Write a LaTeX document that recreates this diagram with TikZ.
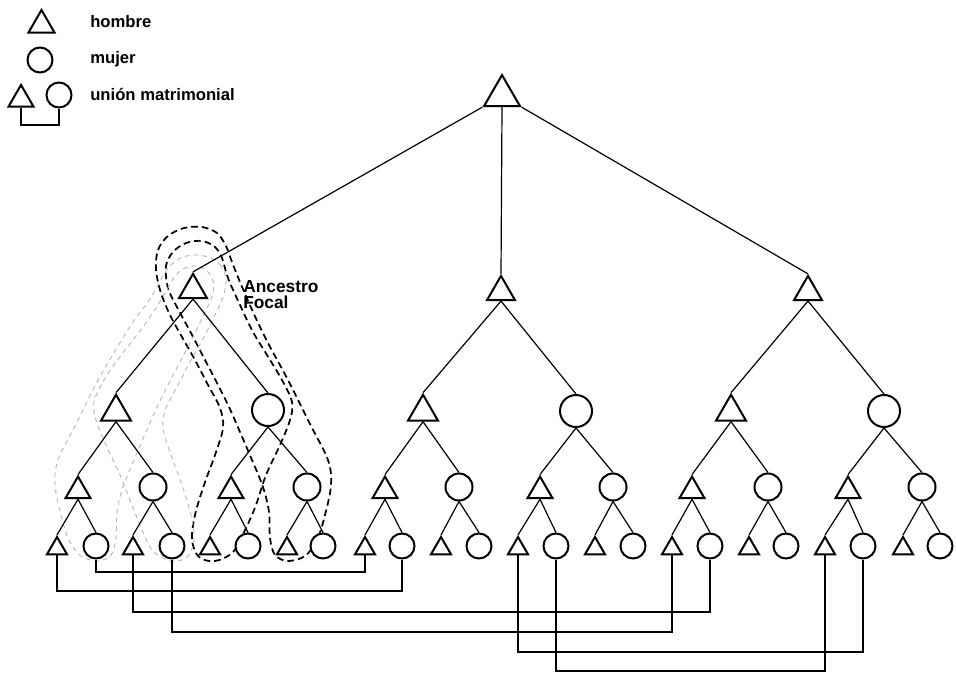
\documentclass[tikz,border=0pt]{standalone}
\usepackage{fontspec}
\setmainfont{Liberation Sans}
\usetikzlibrary{shapes.geometric,backgrounds}
\tikzset{
  tri/.style={regular polygon, regular polygon sides=3, draw, fill=white,
    line width=1.5pt, inner sep=0pt, minimum size=#1},
  tri/.default=17pt,
  fem/.style={circle, draw, fill=white, line width=1.5pt, inner sep=0pt, minimum size=#1},
  fem/.default=18pt,
  kin/.style={line width=0.9pt},
  bond/.style={line width=1.2pt},
  bondheavy/.style={line width=2.1pt},
  lineage/.style={line width=1.3pt, dash pattern=on 5pt off 3pt},
  faintlineage/.style={draw=black!28, line width=0.7pt, dash pattern=on 3.5pt off 3pt},
  legendtext/.style={font=\bfseries\fontsize{12.5}{14}\selectfont, inner sep=0pt, anchor=base west},
}
\begin{document}
\begin{tikzpicture}[x=0.75pt,y=-0.75pt]
\useasboundingbox (0,0) rectangle (956,676);

% ---------- legend ----------
\node[tri=22.5pt] (lm) at (41.5,25) {};
\node[legendtext] (lmt) at (90,27) {hombre};
\node[fem=18.75pt] (lf) at (40,60) {};
\node[legendtext] (lft) at (90,63) {mujer};
\node[tri=21.7pt] (ut) at (21,99.4) {};
\node[fem=18.75pt] (uc) at (59,95) {};
\coordinate (ulev) at (0,125);
\draw[bond] (ut.side 2) -- (ut.side 2 |- ulev) -- (uc.south |- ulev) -- (uc.south);
\node[legendtext] (ult) at (90,100) {unión matrimonial};

% ---------- genealogy ----------
\node[tri=31.2pt] (r) at (502,95.8) {};
\node[tri=24.2pt] (a) at (193,290) {};
\node[tri=24.2pt] (b) at (501,292) {};
\node[tri=24.2pt] (c) at (808,292) {};

\node[tri=26pt] (a1) at (116,412) {};
\node[fem=24pt] (a2) at (268,410) {};
\node[tri=26pt] (b1) at (423,412) {};
\node[fem=24pt] (b2) at (576,411) {};
\node[tri=26pt] (c1) at (731,412) {};
\node[fem=24pt] (c2) at (884,411) {};

\foreach \n/\x in {a11/78,a21/231,b11/385,b21/540,c11/692,c21/848}
  \node[tri=21.7pt] (\n) at (\x,491) {};
\foreach \n/\x in {a12/153,a22/307,b12/459,b22/613,c12/768,c22/922}
  \node[fem=20.25pt] (\n) at (\x,487) {};

\foreach \n/\x in {a111/57,a121/133,a211/210,a221/287,b111/365,b121/441,
                   b211/518,b221/595,c111/672,c121/749,c211/825,c221/903}
  \node[tri=17.3pt] (\n) at (\x,548.5) {};
\foreach \n/\x in {a112/96,a122/172,a212/248,a222/323,b112/402,b122/479,
                   b212/556,b222/633,c112/710,c122/786,c212/863,c222/940}
  \node[fem=18.75pt] (\n) at (\x,546) {};

% descent lines
\draw[kin] (r.corner 2) -- (a.corner 1) (r.side 2) -- (b.corner 1) (r.corner 3) -- (c.corner 1);
\foreach \p in {a,b,c,a1,b1,c1,a11,a21,b11,b21,c11,c21}
  \draw[kin] (\p.side 2) -- (\p1.corner 1) (\p.side 2) -- (\p2.north);
\foreach \p in {a2,b2,c2,a12,a22,b12,b22,c12,c22}
  \draw[kin] (\p.south) -- (\p1.corner 1) (\p.south) -- (\p2.north);

% marriages between the lineages
\coordinate (y1) at (0,572);
\coordinate (y2) at (0,591);
\coordinate (y3) at (0,612);
\coordinate (y4) at (0,632);
\coordinate (y5) at (0,652);
\coordinate (y6) at (0,671);
\draw[bond] (a112.south) -- (a112.south |- y1) -- (b111.side 2 |- y1) -- (b111.side 2);
\draw[bond] (a111.side 2) -- (a111.side 2 |- y2) -- (b112.south |- y2) -- (b112.south);
\draw[bond] (a121.side 2) -- (a121.side 2 |- y3) -- (c112.south |- y3) -- (c112.south);
\draw[bond] (a122.south) -- (a122.south |- y4) -- (c111.side 2 |- y4) -- (c111.side 2);
\draw[bondheavy] (b211.side 2) -- (b211.side 2 |- y5) -- (c212.south |- y5) -- (c212.south);
\draw[bondheavy] (b212.south) -- (b212.south |- y6) -- (c211.side 2 |- y6) -- (c211.side 2);

\node[font=\bfseries\fontsize{13}{12}\selectfont, align=left, anchor=north west,
      inner sep=0pt] (focal) at (243,280) {Ancestro\\Focal};

% descent groups traced from the focal ancestor
\begin{scope}[on background layer]
\draw[lineage] plot[smooth cycle, tension=0.55] coordinates {
  (156,270) (158,250) (168,236) (184,228) (202,227) (217,233) (226,246) (232,262)
  (240,282) (253,312) (268,343) (288,380) (310,424) (328,460) (331,485) (325,515)
  (317,540) (305,556) (288,561) (275,555) (270,538) (269,512) (263,487) (252,460)
  (240,432) (229,407) (217,383) (204,358) (191,333) (178,309) (168,288) (166,266)
  (173,252) (186,243) (202,241) (215,247) (222,258) (228,278) (240,305) (253,332)
  (267,355) (282,380) (292,402) (290,420) (280,445) (266,475) (256,505) (246,528)
  (233,552) (215,561) (199,557) (192,540) (195,515) (204,485) (215,455) (223,428)
  (220,408) (208,385) (195,360) (182,337) (170,315) (161,293)};
\draw[faintlineage] plot[smooth cycle, tension=0.55] coordinates {
  (226,278) (221,266) (211,258) (197,255) (183,257) (172,264) (164,274) (157,287)
  (148,302) (133,322) (118,346) (98,380) (76,424) (58,460) (55,485) (61,515)
  (69,540) (81,556) (98,561) (111,555) (116,538) (117,512) (123,487) (134,460)
  (146,432) (157,407) (169,383) (182,358) (195,333) (206,310) (213,294) (213,281)
  (207,271) (196,266) (185,268) (176,275) (169,286) (161,300) (148,320) (133,340)
  (119,358) (104,380) (94,402) (96,420) (106,445) (120,475) (132,505) (142,530)
  (153,551) (171,561) (187,557) (194,540) (191,515) (182,485) (171,455) (163,428)
  (166,408) (178,385) (191,360) (204,337) (215,315) (224,294)};
\end{scope}
\end{tikzpicture}
\end{document}
